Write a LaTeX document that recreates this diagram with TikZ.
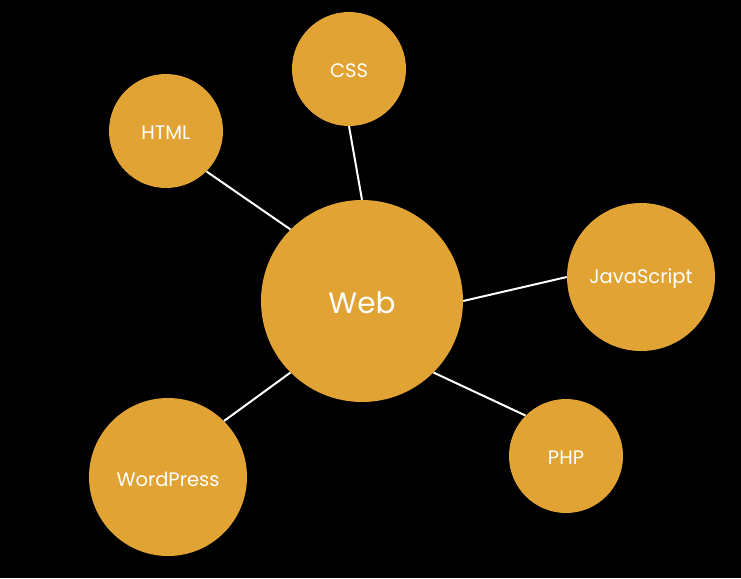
\documentclass[tikz,border=0pt]{standalone}
\usepackage{fontspec}
\setmainfont{Poppins}
\definecolor{bubble}{HTML}{E0A334}
\newcommand{\lbl}[1]{\raisebox{-2pt}[\height][\depth]{#1}}
\begin{document}
\begin{tikzpicture}[x=1pt,y=-1pt,
  bub/.style={circle,fill=bubble,draw=none,inner sep=0pt,text=white,minimum size=#1},
  small/.style={font=\fontsize{19.5}{23}\selectfont},
  link/.style={white,line width=2pt}]
\fill[black] (0,0) rectangle (741,578);
\useasboundingbox (0,0) rectangle (741,578);
\node[bub=202pt,font=\fontsize{29.5}{34}\selectfont] (web) at (362,301) {\lbl{Web}};
\node[bub=114pt,small] (css) at (349,69) {\lbl{CSS}};
\node[bub=114pt,small] (html) at (166,131) {\lbl{HTML}};
\node[bub=148pt,small] (js) at (641,277) {\lbl{JavaScript}};
\node[bub=114pt,small] (php) at (566,456) {\lbl{PHP}};
\node[bub=158pt,small] (wp) at (168,477) {\lbl{WordPress}};
\draw[link] (web.north) -- (css.south);
\draw[link] (web.north west) -- (html.south east);
\draw[link] (web.east) -- (js.west);
\draw[link] (web.south east) -- (php.north west);
\draw[link] (web.south west) -- (wp.north east);
\end{tikzpicture}
\end{document}
